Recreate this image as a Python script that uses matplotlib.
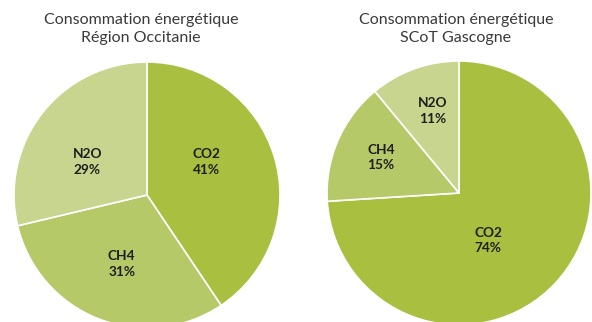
import matplotlib.pyplot as plt

plt.rcParams['font.family'] = ['Lato', 'DejaVu Sans']

gases = ["CO2", "CH4", "N2O"]
occitanie_pct = [41, 31, 29]
gascogne_pct = [74, 15, 11]
titles = ["Consommation énergétique\nRégion Occitanie",
          "Consommation énergétique\nSCoT Gascogne"]

colors = ["#a8bf3f", "#b6c968", "#c7d58f"]

# label anchors, in units of the pie radius
occitanie_lbl = [(0.45, 0.25), (-0.19, -0.52), (-0.45, 0.25)]
gascogne_lbl = [(0.22, -0.36), (-0.59, 0.27), (-0.20, 0.62)]

W, H = 592, 322
fig = plt.figure(figsize=(W / 100, H / 100), dpi=100)


def draw_pie(cx, cy, r, values, lbl_pos, title, tx):
    ax = fig.add_axes([(cx - r) / W, (H - cy - r) / H, 2 * r / W, 2 * r / H])
    ax.pie(values, colors=colors, startangle=90, counterclock=False,
           wedgeprops=dict(edgecolor="white", linewidth=1.2))
    ax.set_xlim(-1, 1)
    ax.set_ylim(-1, 1)
    for name, v, (x, y) in zip(gases, values, lbl_pos):
        ax.text(x, y, f"{name}\n{v}%", ha="center", va="center",
                fontsize=9.8, fontweight="bold", color="#1e1e1e",
                linespacing=1.35)
    fig.text(tx / W, 1 - 29 / H, title, ha="center", va="center",
             fontsize=11.5, color="#3a3a3a", linespacing=1.3)


draw_pie(147, 195, 133, occitanie_pct, occitanie_lbl, titles[0], 141)
draw_pie(459, 193, 132, gascogne_pct, gascogne_lbl, titles[1], 456)

fig.savefig("out.png", dpi=100)
